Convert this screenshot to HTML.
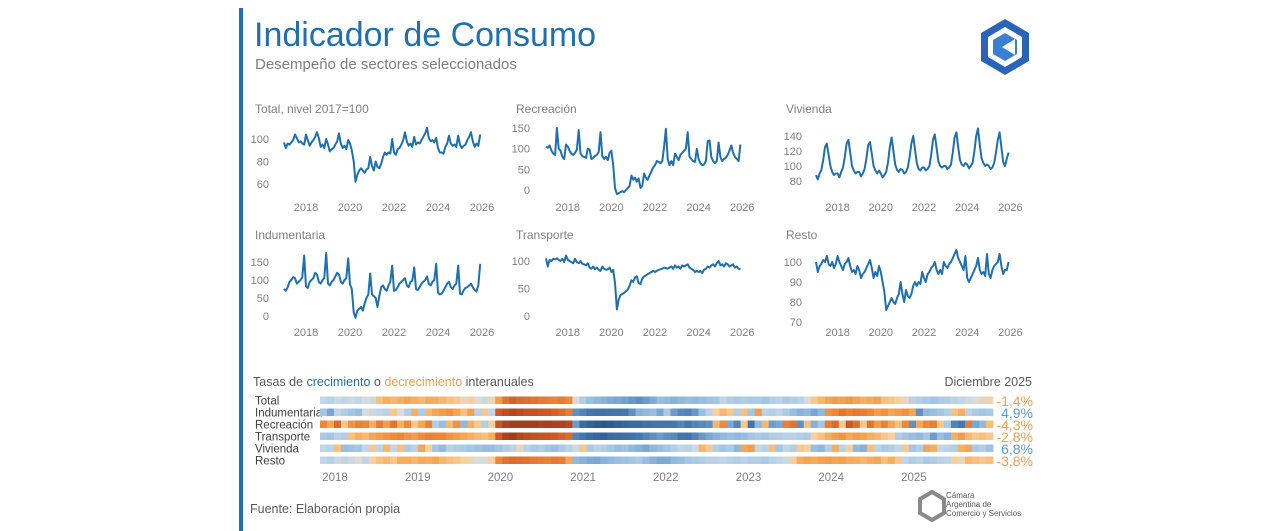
<!DOCTYPE html>
<html><head><meta charset="utf-8"><style>
body{margin:0;background:#fff;font-family:"Liberation Sans",sans-serif;}
#wrap{position:relative;width:1280px;height:531px;overflow:hidden;background:#fff;}
svg text{font-family:"Liberation Sans",sans-serif;}
</style></head><body>
<div id="wrap">
<svg id="svg" width="1280" height="531" xmlns="http://www.w3.org/2000/svg">
<rect x="239" y="8" width="4" height="523" fill="#1f6fb2"/>
<text x="254" y="46" font-size="34" fill="#1f6fb2">Indicador de Consumo</text>
<text x="255" y="69" font-size="15" fill="#7f7f7f">Desempeño de sectores seleccionados</text>
<g transform="translate(1005,47)">
<polygon points="0,-28 24,-14 24,14 0,28 -24,14 -24,-14" fill="#2a64b8"/>
<polygon points="0,-20 17,-10 17,10 0,20 -17,10 -17,-10" fill="#fff"/>
<polygon points="0,-14 12,-7 12,7 0,14 -12,7 -12,-7" fill="#3a7fd0"/>
<polygon points="-3,0 10,-8 10,8" fill="#fff"/>
</g>
<text x="253" y="386" font-size="12.5" fill="#595959">Tasas de <tspan fill="#1f6fb2">crecimiento</tspan> o <tspan fill="#f0a04b">decrecimiento</tspan> interanuales</text>
<text x="1032" y="386" font-size="12.5" fill="#595959" text-anchor="end">Diciembre 2025</text>
<text x="250" y="513" font-size="12.5" fill="#595959">Fuente: Elaboración propia</text>
<g>
<polygon points="932,492 944,499 944,513 932,520 920,513 920,499" fill="none" stroke="#8a8a8a" stroke-width="4"/>
<text x="946" y="498" font-size="8" fill="#555">Cámara</text>
<text x="946" y="507" font-size="8" fill="#555">Argentina de</text>
<text x="946" y="516" font-size="8" fill="#555">Comercio y Servicios</text>
</g>
</svg>
</div>
<script>
const totalValues=[97,92,96,95,97,99,104,101,97,98,96,95,104,99,94,97,99,102,106,101,93,95,92,100,95,89,91,92,95,98,105,96,92,94,91,99,96,90,80,62,68,72,74,72,70,73,74,84,76,72,80,75,74,78,84,88,86,88,87,100,88,86,91,92,95,99,106,98,94,96,93,102,95,97,96,99,102,105,110,101,98,99,97,101,92,88,88,87,93,96,103,96,94,95,93,103,95,92,94,95,99,102,106,98,93,96,94,104];
const recreacionValues=[105,102,108,95,88,85,150,100,95,80,75,110,105,95,88,85,90,98,145,88,82,80,78,100,98,75,78,82,85,92,140,82,75,80,72,90,95,60,5,-10,-8,-5,-3,-5,0,5,10,35,25,30,20,28,5,10,40,30,25,35,45,55,60,70,68,65,70,105,148,75,60,70,60,88,80,72,85,90,95,100,140,80,75,70,68,100,75,65,60,62,70,118,120,80,70,65,70,115,80,70,75,78,85,95,108,90,80,75,70,110];
const viviendaValues=[88,82,90,95,108,125,130,115,100,92,88,90,90,85,92,98,112,130,135,118,100,94,90,92,92,86,90,96,110,128,132,116,100,94,90,94,90,85,88,92,105,125,138,120,102,95,92,96,95,90,92,98,112,130,140,122,104,96,94,98,98,94,96,100,115,135,142,124,106,100,98,100,100,96,98,102,118,138,145,125,108,102,100,104,102,97,100,104,120,140,150,128,110,104,100,102,100,96,98,104,118,135,145,125,105,100,110,118];
const indumentariaValues=[75,70,80,95,100,108,105,90,95,100,108,168,82,78,95,100,105,120,115,95,90,100,105,175,90,85,95,100,110,120,115,95,90,100,105,160,88,75,10,-5,15,20,25,15,35,50,60,118,60,55,50,25,55,80,85,75,70,85,95,140,70,72,80,90,95,100,105,85,80,95,98,135,75,72,80,90,95,100,110,90,85,95,100,145,65,60,62,70,80,90,95,80,75,85,90,140,62,60,72,78,80,85,90,80,72,68,85,145];
const transporteValues=[105,90,102,100,104,103,105,102,100,104,98,110,102,100,98,96,104,98,96,100,95,94,92,96,88,86,90,85,88,84,82,90,86,84,85,88,80,84,60,12,30,38,40,42,45,48,55,65,62,70,72,60,58,68,72,74,76,78,80,82,80,82,84,85,86,88,87,86,88,90,86,92,88,90,86,92,90,92,94,88,86,84,80,82,80,82,78,84,86,90,88,92,94,90,96,100,92,94,90,96,94,90,92,94,88,90,86,85];
const restoValues=[100,95,98,99,101,100,103,99,98,100,97,99,103,100,98,96,99,100,102,98,95,96,94,98,96,92,94,95,97,99,101,97,92,95,93,98,95,90,85,76,78,80,82,80,79,82,84,90,84,80,86,83,82,84,88,90,88,90,89,95,92,90,94,95,97,98,100,96,94,96,94,100,98,97,99,100,102,104,106,102,100,98,96,103,92,90,92,94,96,98,102,96,94,95,93,104,94,92,96,98,99,100,104,98,94,96,96,100];
const xTickLabels=["2018","2020","2022","2024","2026"];
const totalTicks=[60,80,100];
const recreacionTicks=[0,50,100,150];
const viviendaTicks=[80,100,120,140];
const indumentariaTicks=[0,50,100,150];
const transporteTicks=[0,50,100];
const restoTicks=[70,80,90,100];
const heatRows=["Total","Indumentaria","Recreación","Transporte","Vivienda","Resto"];
const heatTotal=[2,3,1,2,1,2,0,1,-4,-6,-5,-6,-8,-6,-5,-7,-6,-5,-4,-3,-1,-2,0,1,-1,-10,-25,-35,-30,-28,-25,-22,-20,-18,-20,-15,0,4,8,10,12,14,15,18,22,25,20,14,8,10,12,10,8,9,8,7,6,2,4,5,4,5,5,6,4,3,5,4,3,0,-3,-5,-8,-10,-9,-11,-8,-6,-7,-9,-4,-3,-2,-1,3,4,5,6,5,4,3,2,1,0,-1,-1.4];
const heatIndumentaria=[6,15,2,4,6,8,0,1,2,3,-3,0,4,-6,5,-5,-8,-10,-12,-8,-4,-9,3,-3,2,-40,-60,-70,-60,-50,-50,-45,-40,-35,-30,-20,25,30,40,45,50,40,38,35,25,12,10,8,15,5,20,28,30,22,8,3,-2,-5,-3,4,-4,6,-10,3,4,2,5,8,12,10,15,10,-12,-15,-25,-18,-22,-20,-15,-10,-12,-8,-10,-12,-8,25,10,8,6,4,-4,-6,3,5,6,4.9];
const heatRecreacion=[-15,-8,-30,-3,-12,-18,-16,-6,-20,-10,-25,-6,-15,-3,-8,-18,4,8,-5,-12,10,-6,-3,4,-2,-50,-80,-90,-90,-90,-90,-85,-85,-80,-80,-70,20,60,80,90,100,90,80,70,60,60,50,45,40,40,35,30,35,30,28,25,-5,-15,15,30,-3,45,10,-5,20,15,-18,-25,25,-4,12,6,-20,-30,-3,-40,-28,-3,-25,-10,-18,-8,-4,-15,25,-8,-15,-20,-3,5,30,35,-20,15,10,-4.3];
const heatTransporte=[5,6,3,4,-4,-6,-5,-8,-10,-12,-14,-16,-12,-10,-14,-18,-16,-15,-12,-10,-8,-6,-5,-4,-6,-40,-80,-90,-70,-60,-55,-50,-45,-40,-35,-30,30,40,60,70,80,60,55,50,45,35,30,25,20,25,28,40,45,30,22,15,12,10,8,10,8,6,5,6,4,4,3,3,4,5,-2,-4,-6,-10,-12,-8,-10,-9,-6,-5,-3,-2,4,6,8,10,6,20,8,12,-6,-10,-5,-3,-4,-2.8];
const heatVivienda=[2,3,-4,8,7,6,2,-3,3,-5,2,-4,5,3,-8,-2,6,9,3,4,5,6,7,8,8,6,4,3,-1,3,5,4,6,8,5,3,1,-3,5,3,4,6,8,7,10,12,15,10,8,6,4,2,3,1,-5,-3,4,6,5,10,-8,-10,2,3,-4,6,2,4,-3,-2,8,10,4,-6,3,-2,10,12,-4,3,5,4,2,-3,6,4,-8,-6,2,3,4,-6,-8,5,4,6.8];
const heatResto=[2,3,1,2,1,0,2,-2,-4,-5,-3,-6,-6,-5,-7,-6,-8,-5,-4,-3,-2,-1,0,0,-2,-15,-25,-30,-28,-26,-22,-20,-18,-22,-20,-8,10,12,14,15,12,10,8,7,6,5,8,12,15,14,10,8,6,5,4,3,3,2,3,4,3,4,4,5,3,2,1,-2,-6,-8,-7,-9,-10,-8,-9,-7,-6,-5,-6,-8,-4,-6,-3,2,4,3,5,4,3,2,-2,-1,-5,-4,-3,-3.8];
const heatYears=["2018","2019","2020","2021","2022","2023","2024","2025"];
const heatLatest=["-1,4%","4,9%","-4,3%","-2,8%","6,8%","-3,8%"];

const NS="http://www.w3.org/2000/svg";
const svg=document.getElementById('svg');
function mk(tag,attrs,parent){const e=document.createElementNS(NS,tag);for(const k in attrs)e.setAttribute(k,attrs[k]);(parent||svg).appendChild(e);return e;}

function lineChart(name,title,values,ticks,cfg){
  const g=mk('g',{});
  
  
  const t=mk('text',{x:cfg.tx,y:cfg.ty,'font-size':12,fill:'#7f7f7f'},g);t.textContent=title;
  
  
  const yScale=v=>cfg.y0+(v-cfg.v0)*(cfg.y1-cfg.y0)/(cfg.v1-cfg.v0);
  const xScale=m=>cfg.x2017+m*cfg.yearW/12;
  ticks.forEach(v=>{const l=mk('text',{x:cfg.labX,y:yScale(v)+4,'font-size':11,fill:'#7f7f7f','text-anchor':'end'},g);l.textContent=v;
    
    });
  xTickLabels.forEach((s,i)=>{const yr=+s;const l=mk('text',{x:xScale((yr-2017)*12),y:cfg.xly,'font-size':11,fill:'#7f7f7f','text-anchor':'middle'},g);l.textContent=s;
    
    });
  const d=values.map((v,i)=>(i?'L':'M')+xScale(i).toFixed(1)+','+yScale(v).toFixed(1)).join(' ');
  const p=mk('path',{d:d,fill:'none',stroke:'#1f6fae','stroke-width':2,'stroke-linejoin':'round'},g);
  
  
}
const r1={ty:113,xly:211};const r2={ty:239,xly:336};
lineChart('total','Total, nivel 2017=100',totalValues,totalTicks,{tx:255,ty:r1.ty,xly:r1.xly,labX:269,x2017:284,yearW:22,v0:100,y0:139,v1:60,y1:184});
lineChart('recreacion','Recreación',recreacionValues,recreacionTicks,{tx:516,ty:r1.ty,xly:r1.xly,labX:530,x2017:546,yearW:21.8,v0:150,y0:128,v1:0,y1:190});
lineChart('vivienda','Vivienda',viviendaValues,viviendaTicks,{tx:786,ty:r1.ty,xly:r1.xly,labX:802,x2017:816,yearW:21.6,v0:140,y0:136,v1:80,y1:181});
lineChart('indumentaria','Indumentaria',indumentariaValues,indumentariaTicks,{tx:255,ty:r2.ty,xly:r2.xly,labX:269,x2017:284,yearW:22,v0:150,y0:262,v1:0,y1:316});
lineChart('transporte','Transporte',transporteValues,transporteTicks,{tx:516,ty:r2.ty,xly:r2.xly,labX:530,x2017:546,yearW:21.8,v0:100,y0:261,v1:0,y1:316});
lineChart('resto','Resto',restoValues,restoTicks,{tx:786,ty:r2.ty,xly:r2.xly,labX:802,x2017:816,yearW:21.6,v0:100,y0:262,v1:70,y1:322});

const stops=[[-90,[160,62,32]],[-40,[205,90,38]],[-15,[238,135,55]],[-6,[245,175,95]],[-2,[248,208,155]],[0,[218,218,214]],[2,[192,214,232]],[6,[162,198,228]],[15,[122,168,212]],[35,[70,120,175]],[100,[42,88,142]]];
function color(v){if(v<=stops[0][0])return 'rgb('+stops[0][1]+')';
  for(let i=1;i<stops.length;i++){if(v<=stops[i][0]){const a=stops[i-1],b=stops[i];const t=(v-a[0])/(b[0]-a[0]);
    return 'rgb('+a[1].map((c,j)=>Math.round(c+(b[1][j]-c)*t)).join(',')+')';}}
  return 'rgb('+stops[stops.length-1][1]+')';}
const heatData=[heatTotal,heatIndumentaria,heatRecreacion,heatTransporte,heatVivienda,heatResto];
const hx0=320,hx1=993,rowTop=396.5,rowStep=12,rowH=7.5;
const cw=(hx1-hx0)/96;
const hg=mk('g',{});


heatRows.forEach((r,ri)=>{
  const y=rowTop+ri*rowStep;
  const l=mk('text',{x:255,y:y+8,'font-size':11.5,fill:'#404040'},hg);l.textContent=r;
  
  
  heatData[ri].forEach((v,i)=>{const c=mk('rect',{x:(hx0+i*cw).toFixed(2),y:y,width:(cw+0.4).toFixed(2),height:rowH,fill:color(v)},hg);
    
    });
  const last=heatData[ri][95];
  const vt=mk('text',{x:1033,y:y+9.5,'font-size':14,fill:last<0?'#f0a04b':'#5b9bd5','text-anchor':'end'},hg);vt.textContent=heatLatest[ri];
  
  
});
heatYears.forEach((s,i)=>{const t=mk('text',{x:335+i*82.7,y:481,'font-size':11.5,fill:'#7f7f7f','text-anchor':'middle'},hg);t.textContent=s;
  
  });
</script>
</body></html>
